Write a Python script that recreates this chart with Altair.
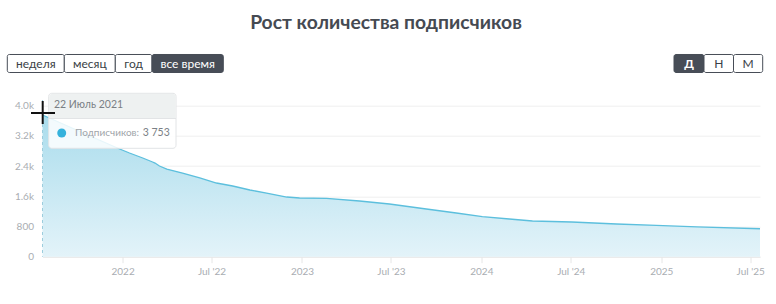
import altair as alt
import pandas as pd

# ---- data ----
dates = ["2021-07-22", "2021-08-20", "2021-09-20", "2021-10-20", "2021-11-20",
         "2021-12-26", "2022-01-15", "2022-02-11", "2022-03-03", "2022-03-08",
         "2022-03-17", "2022-04-01", "2022-05-03", "2022-06-07", "2022-07-11",
         "2022-08-13", "2022-09-17", "2022-10-21", "2022-12-01", "2022-12-27",
         "2023-02-20", "2023-04-28", "2023-06-28", "2023-09-11", "2023-11-11",
         "2024-01-03", "2024-02-27", "2024-04-14", "2024-07-03", "2024-10-02",
         "2024-12-22", "2025-03-15", "2025-07-21"]
subscribers = [3753, 3588, 3409, 3237, 3059,
               2853, 2747, 2615, 2509, 2480,
               2403, 2323, 2217, 2085, 1952,
               1873, 1767, 1687, 1581, 1555,
               1547, 1475, 1396, 1264, 1158,
               1060, 999, 946, 919, 866,
               832, 790, 740]
y_ticks = [0, 800, 1600, 2400, 3200, 4000]
title_text = "Рост количества подписчиков"
period_buttons = ["неделя", "месяц", "год", "все время"]
group_buttons = ["Д", "Н", "М"]
tip_date = "22 Июль 2021"
tip_label = "Подписчиков:"
tip_value = "3 753"

df = pd.DataFrame({"date": pd.to_datetime(dates), "value": subscribers})

# ---- layout ----
W, H = 717.5, 151
OX, OY = 42.5, 105.7
FONT = "Lato"
DARK = "#474d57"


def px(x):
    return x - OX


def py(y):
    return y - OY


one = pd.DataFrame({"a": [0]})

xscale = alt.Scale(domain=[alt.DateTime(year=2021, month=7, date=22),
                           alt.DateTime(year=2025, month=7, date=21)], nice=False)
xvals = []
for yr in [2022, 2023, 2024, 2025]:
    xvals.append(alt.DateTime(year=yr, month=1, date=1))
    xvals.append(alt.DateTime(year=yr, month=7, date=1))

x_axis = alt.Axis(values=xvals, title=None, grid=False,
                  domainColor="#e6e6e6", tickColor="#e6e6e6", tickSize=6,
                  labelColor="#a9adb2", labelFontSize=10, labelFont=FONT,
                  labelPadding=4, labelOverlap=False,
                  labelExpr="month(datum.value)==0 ? timeFormat(datum.value,'%Y') : \"Jul '\" + timeFormat(datum.value,'%y')")
y_axis = alt.Axis(values=y_ticks, title=None, domain=False, ticks=False,
                  gridColor="#efefef", labelColor="#a9adb2", labelFontSize=10,
                  labelFont=FONT, labelPadding=9, labelOverlap=False,
                  labelBound=False, tickCount=6,
                  labelExpr="datum.value >= 1000 ? format(datum.value/1000,'.1f')+'k' : format(datum.value,'d')")
yscale = alt.Scale(domain=[0, 4000], nice=False)

base = alt.Chart(df)
area = base.mark_area(
    fill=alt.Gradient(gradient="linear",
                      stops=[alt.GradientStop(color="#a9dcec", offset=0),
                             alt.GradientStop(color="#e3f3f9", offset=1)],
                      x1=1, x2=1, y1=0, y2=1),
    line=False).encode(x=alt.X("date:T", scale=xscale, axis=x_axis),
                       y=alt.Y("value:Q", scale=yscale, axis=y_axis))
line = base.mark_line(color="#5cbfdd", strokeWidth=1.3).encode(
    x=alt.X("date:T", scale=xscale, axis=x_axis),
    y=alt.Y("value:Q", scale=yscale, axis=y_axis))

crosshair = alt.Chart(one).mark_rule(color="#9ccddd", strokeDash=[3, 3], strokeWidth=1).encode(
    x=alt.XDatum(alt.DateTime(year=2021, month=7, date=22), type="temporal"),
    y=alt.value(py(100)), y2=alt.value(H))

layers = [area, line, crosshair]

# tooltip
layers.append(alt.Chart(one).mark_rect(fill="white", fillOpacity=0.85, stroke="#e2e4e6",
                                       cornerRadius=3).encode(
    x=alt.value(px(48.7)), x2=alt.value(px(176)), y=alt.value(py(93.3)), y2=alt.value(py(148.3))))
layers.append(alt.Chart(one).mark_rect(fill="#eceff0", fillOpacity=0.9, cornerRadiusTopLeft=3,
                                       cornerRadiusTopRight=3).encode(
    x=alt.value(px(49.2)), x2=alt.value(px(175.5)), y=alt.value(py(93.8)), y2=alt.value(py(118.5))))
layers.append(alt.Chart(one).mark_rule(color="#e2e4e6").encode(
    x=alt.value(px(49)), x2=alt.value(px(176)), y=alt.value(py(118.5))))
layers.append(alt.Chart(one).mark_text(align="left", baseline="middle", font=FONT, fontSize=10.5,
                                       color="#7a7f85").encode(
    x=alt.value(px(54)), y=alt.value(py(105)), text=alt.value(tip_date)))
layers.append(alt.Chart(one).mark_point(filled=True, size=80, color="#35b2dc", opacity=1).encode(
    x=alt.value(px(61.7)), y=alt.value(py(133))))
layers.append(alt.Chart(one).mark_text(align="left", baseline="middle", font=FONT, fontSize=10,
                                       color="#a0a4a9").encode(
    x=alt.value(px(75)), y=alt.value(py(133)), text=alt.value(tip_label)))
layers.append(alt.Chart(one).mark_text(align="left", baseline="middle", font=FONT, fontSize=10.5,
                                       color="#7a7f85").encode(
    x=alt.value(px(142.7)), y=alt.value(py(133)), text=alt.value(tip_value)))

# mouse cursor
layers.append(alt.Chart(one).mark_rule(color="#111111", strokeWidth=2).encode(
    x=alt.value(px(31)), x2=alt.value(px(55)), y=alt.value(py(113))))
layers.append(alt.Chart(one).mark_rule(color="#111111", strokeWidth=2).encode(
    x=alt.value(px(42.7)), y=alt.value(py(101)), y2=alt.value(py(124))))

# title
layers.append(alt.Chart(one).mark_text(align="center", baseline="middle", font=FONT, fontSize=19.3,
                                       fontWeight="bold", color="#454a52").encode(
    x=alt.value(px(386)), y=alt.value(py(23)), text=alt.value(title_text)))

# buttons
period_x = [7.3, 64.3, 115.3, 152, 223.3]
group_x = [674, 704, 733.5, 762.7]


def add_buttons(labels, edges, active_idx):
    out = []
    for i, lab in enumerate(labels):
        active = i == active_idx
        out.append(alt.Chart(one).mark_rect(fill=DARK if active else "white", stroke=DARK,
                                            strokeWidth=1, cornerRadius=2).encode(
            x=alt.value(px(edges[i])), x2=alt.value(px(edges[i + 1])),
            y=alt.value(py(54.5)), y2=alt.value(py(72.5))))
        out.append(alt.Chart(one).mark_text(align="center", baseline="middle", font=FONT,
                                            fontSize=12, fontWeight="bold" if (active and len(lab) == 1) else "normal",
                                            color="white" if active else "#3a3f46").encode(
            x=alt.value(px((edges[i] + edges[i + 1]) / 2)), y=alt.value(py(63.5)),
            text=alt.value(lab)))
    return out


layers += add_buttons(period_buttons, period_x, 3)
layers += add_buttons(group_buttons, group_x, 0)

chart = alt.layer(*layers).properties(
    width=W, height=H,
    autosize=alt.AutoSizeParams(type="none"),
    padding={"left": OX, "top": OY, "right": 776 - OX - W, "bottom": 304 - OY - H},
    background="white",
).configure_view(strokeWidth=0)

chart.save("out.html", embed_options={"renderer": "svg", "actions": False})
